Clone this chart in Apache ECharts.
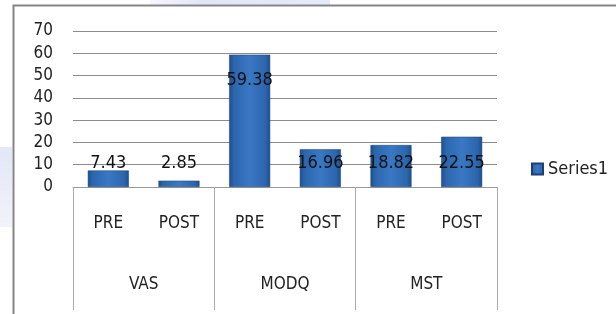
<!DOCTYPE html>
<html><head><meta charset="utf-8">
<script src="https://cdn.jsdelivr.net/npm/echarts@6/dist/echarts.min.js"></script>
<style>html,body{margin:0;padding:0;background:#fff}#c{width:616px;height:314px}</style>
</head><body><div id="c"></div>
<script>
const subCategories = ['PRE','POST','PRE','POST','PRE','POST'];
const groupCategories = ['VAS','MODQ','MST'];
const seriesName = 'Series1';
const values = [7.43, 2.85, 59.38, 16.96, 18.82, 22.55];
const yTicks = {min: 0, max: 70, interval: 10};

const FONT = '"DejaVu Sans Condensed", "Liberation Sans Narrow", sans-serif';
const chart = echarts.init(document.getElementById('c'), null, {renderer: 'canvas'});
const barGrad = new echarts.graphic.LinearGradient(0, 0, 1, 0, [
  {offset: 0, color: '#1d4f8f'},
  {offset: 0.12, color: '#2c66ad'},
  {offset: 0.5, color: '#3a78c4'},
  {offset: 0.88, color: '#2c66ad'},
  {offset: 1, color: '#1d4f8f'}
]);
const data = values.map(v => ({
  value: v,
  label: v > 50 ? {position: 'insideTop', distance: 17} : {position: 'insideBottom', distance: 15}
}));
chart.setOption({
  animation: false,
  backgroundColor: '#fff',
  textStyle: {fontFamily: FONT},
  graphic: [
    {type: 'rect', shape: {x: 0, y: 147, width: 12, height: 80}, style: {fill: new echarts.graphic.LinearGradient(0,0,0,1,[{offset:0,color:'#e3e7f6'},{offset:1,color:'#f1f3fb'}])}, silent: true, z: -10},
    {type: 'rect', shape: {x: 150, y: 0, width: 180, height: 5}, style: {fill: new echarts.graphic.LinearGradient(0,0,1,0,[{offset:0,color:'#f6f6fd'},{offset:0.3,color:'#e2e5f8'},{offset:1,color:'#e8eafa'}])}, silent: true, z: -10},
    {type: 'rect', shape: {x: 13.5, y: 5.5, width: 700, height: 400}, style: {fill: 'none', stroke: '#858585', lineWidth: 2}, silent: true, z: 10}
  ],
  grid: {left: 73, right: 119, top: 31, bottom: 127, containLabel: false},
  legend: {
    left: 526, top: 155, icon: 'rect', itemWidth: 11, itemHeight: 11, itemGap: 5,
    data: [seriesName],
    textStyle: {fontSize: 18, color: '#222', fontFamily: FONT}
  },
  xAxis: [
    {
      type: 'category', data: subCategories, position: 'bottom',
      axisLine: {show: true, lineStyle: {color: '#999', width: 1}},
      axisTick: {show: false},
      axisLabel: {fontSize: 17, color: '#222', margin: 28, fontFamily: FONT},
      splitLine: {show: false}
    },
    {
      type: 'category', data: groupCategories, position: 'bottom', offset: 0,
      axisLine: {show: false},
      axisTick: {show: true, length: 123, inside: false, lineStyle: {color: '#aaa', width: 1}},
      axisLabel: {fontSize: 17, color: '#222', margin: 89, fontFamily: FONT},
      splitLine: {show: false}
    }
  ],
  yAxis: {
    type: 'value', min: yTicks.min, max: yTicks.max, interval: yTicks.interval,
    axisLine: {show: false}, axisTick: {show: false},
    axisLabel: {fontSize: 17, color: '#222', margin: 20, fontFamily: FONT},
    splitLine: {show: true, lineStyle: {color: '#8c8c8c', width: 1}}
  },
  series: [{
    name: seriesName, type: 'bar', xAxisIndex: 0, data: data, barWidth: 41,
    itemStyle: {color: barGrad, borderColor: '#1a3f73', borderWidth: 0.5},
    label: {show: true, fontSize: 18, color: '#111', fontFamily: FONT}
  }]
});
</script></body></html>
